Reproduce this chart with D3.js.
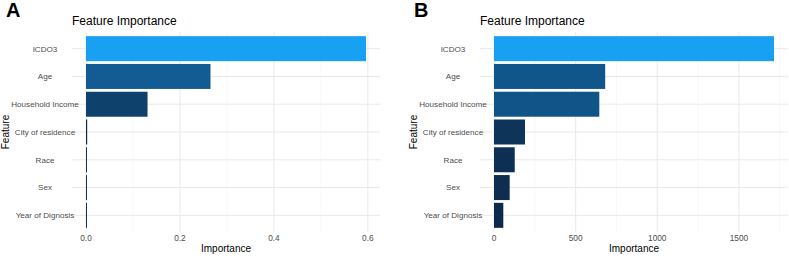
<!DOCTYPE html>
<html>
<head>
<meta charset="utf-8">
<script src="https://cdn.jsdelivr.net/npm/d3@7"></script>
<style>
  body { margin: 0; background: #fff; }
  svg { display: block; font-family: "Liberation Sans", Arial, sans-serif; }
</style>
</head>
<body>
<svg id="chart" width="789" height="256"></svg>
<script>
// data
const features = ["ICDO3", "Age", "Household Income", "City of residence", "Race", "Sex", "Year of Dignosis"];
const importanceA = [0.596, 0.265, 0.131, 0.0025, 0.002, 0.002, 0.002];
const importanceB = [1715, 681, 645, 190, 127, 96, 57];
const ticksA = [0, 0.2, 0.4, 0.6];
const minorA = [0.1, 0.3, 0.5];
const ticksB = [0, 500, 1000, 1500];
const minorB = [250, 750, 1250, 1750];

const svg = d3.select("#chart");

function panel(letter, values, ticks, minor, fmt, ox) {
    const left = 72, right = 380, top = 32, bottom = 232;
    const g = svg.append("g").attr("transform", `translate(${ox},0)`);
    const max = d3.max(values);

    const x = d3.scaleLinear()
        .domain([-0.05 * max, 1.05 * max])
        .range([left, right]);
    const y = d3.scalePoint()
        .domain(features)
        .range([top, bottom])
        .padding(0.6);
    const step = y.step();
    const color = d3.scaleLinear()
        .domain([0, max])
        .range(["#0d2647", "#18A0F2"]);

    // minor grid
    g.selectAll(".minor").data(minor).join("line")
        .attr("x1", d => x(d)).attr("x2", d => x(d))
        .attr("y1", top).attr("y2", bottom)
        .attr("stroke", "#f3f3f3").attr("stroke-width", 0.6);
    // major grid
    g.selectAll(".vmajor").data(ticks).join("line")
        .attr("x1", d => x(d)).attr("x2", d => x(d))
        .attr("y1", top).attr("y2", bottom)
        .attr("stroke", "#e6e6e6").attr("stroke-width", 0.9);
    g.selectAll(".hmajor").data(features).join("line")
        .attr("x1", left).attr("x2", right)
        .attr("y1", d => y(d)).attr("y2", d => y(d))
        .attr("stroke", "#e6e6e6").attr("stroke-width", 0.9);

    // bars
    g.selectAll(".bar").data(features).join("rect")
        .attr("x", x(0))
        .attr("y", d => y(d) - step * 0.45)
        .attr("height", step * 0.9)
        .attr("width", (d, i) => Math.max(0, x(values[i]) - x(0)))
        .attr("fill", (d, i) => color(values[i]));

    // y labels
    g.selectAll(".ylab").data(features).join("text")
        .attr("x", left - 27)
        .attr("y", d => y(d))
        .attr("dy", "0.35em")
        .attr("text-anchor", "middle")
        .attr("font-size", 8.1)
        .attr("fill", "#4d4d4d")
        .text(d => d);

    // x tick labels
    g.selectAll(".xlab").data(ticks).join("text")
        .attr("x", d => x(d))
        .attr("y", 241)
        .attr("text-anchor", "middle")
        .attr("font-size", 8.3)
        .attr("fill", "#4d4d4d")
        .text(d => fmt(d));

    g.append("text")
        .attr("x", (left + right) / 2)
        .attr("y", 252)
        .attr("text-anchor", "middle")
        .attr("font-size", 10)
        .attr("fill", "#000")
        .text("Importance");

    g.append("text")
        .attr("transform", `translate(9,${(top + bottom) / 2}) rotate(-90)`)
        .attr("text-anchor", "middle")
        .attr("font-size", 10)
        .attr("fill", "#000")
        .text("Feature");

    g.append("text")
        .attr("x", left)
        .attr("y", 25)
        .attr("font-size", 12)
        .attr("fill", "#000")
        .text("Feature Importance");

    g.append("text")
        .attr("x", 6)
        .attr("y", 17)
        .attr("font-size", 20)
        .attr("font-weight", "bold")
        .attr("fill", "#000")
        .text(letter);
}

panel("A", importanceA, ticksA, minorA, d3.format(".1f"), 0);
panel("B", importanceB, ticksB, minorB, d3.format("d"), 408);
</script>
</body>
</html>
